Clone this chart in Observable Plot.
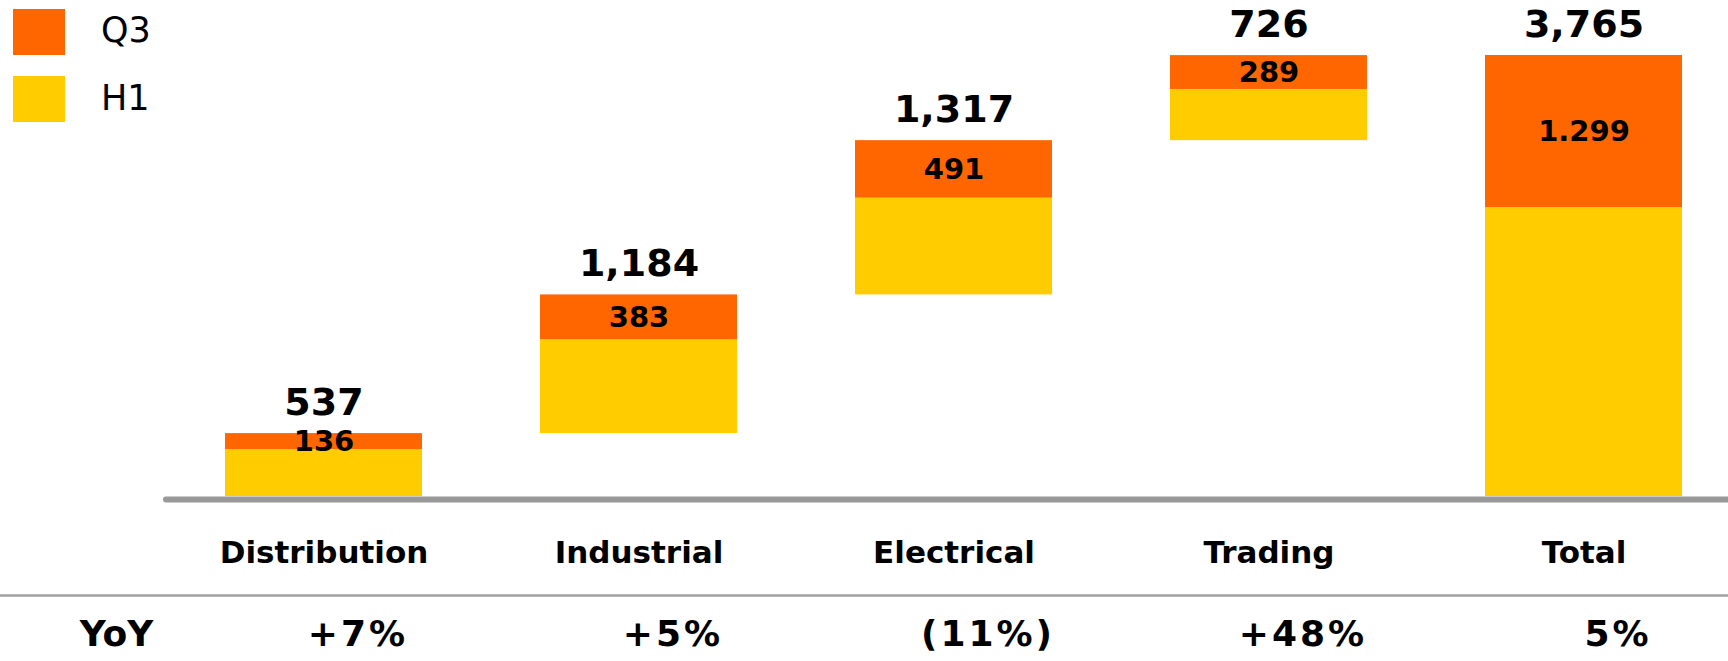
<!DOCTYPE html>
<html><head><meta charset="utf-8">
<script src="https://cdn.jsdelivr.net/npm/d3@7"></script>
<script src="https://cdn.jsdelivr.net/npm/@observablehq/plot@0.6"></script>
<style>
body{margin:0;background:#fff;}
#wrap{position:relative;width:1728px;height:661px;font-family:"DejaVu Sans",sans-serif;}
.sw{position:absolute;left:13px;width:52px;height:46px;}
.lt{position:absolute;left:101px;font-size:35px;line-height:1;color:#000;}
</style></head><body><div id="wrap"></div>
<script>
const categories = ["Distribution","Industrial","Electrical","Trading","Total"];
const totals = [537,1184,1317,726,3765];
const q3 = [136,383,491,289,1299];
const h1 = [401,801,826,437,2466];
const totalLabels = ["537","1,184","1,317","726","3,765"];
const q3Labels = ["136","383","491","289","1.299"];
const yoyLabels = ["+7%","+5%","(11%)","+48%","5%"];
const series = ["Q3","H1"];
const colors = ["#FF6600","#FFCC00"];

// waterfall bases: segments float on the running sum, the last (Total) starts at 0
let run = 0;
const bases = categories.map((c, i) => {
  if (i === categories.length - 1) return 0;
  const b = run; run += totals[i]; return b;
});
const bars = [];
const q3Rows = [];
const topRows = [];
categories.forEach((c, i) => {
  const b = bases[i];
  bars.push({cat: c, series: "H1", y1: b, y2: b + h1[i]});
  bars.push({cat: c, series: "Q3", y1: b + h1[i], y2: b + h1[i] + q3[i]});
  q3Rows.push({cat: c, y: b + h1[i] + q3[i] / 2, label: q3Labels[i]});
  topRows.push({cat: c, y: b + h1[i] + q3[i], label: totalLabels[i]});
});
const yoyRows = categories.map((c, i) => ({cat: c, label: yoyLabels[i]}));

const font = "DejaVu Sans";
const chart = Plot.plot({
  width: 1728,
  height: 661,
  marginLeft: 225,
  marginRight: 46,
  marginTop: 55,
  marginBottom: 165,
  style: {fontFamily: font, color: "#000", background: "#fff"},
  x: {domain: categories, paddingInner: 0.375, paddingOuter: 0, label: null},
  y: {domain: [0, d3.max(totals)], axis: null},
  color: {domain: series, range: colors},
  marks: [
    Plot.barY(bars, {x: "cat", y1: "y1", y2: "y2", fill: "series"}),
    Plot.ruleY([0], {stroke: "#999", strokeWidth: 6, dy: 3, insetLeft: -59, insetRight: -46, strokeLinecap: "round"}),
    Plot.ruleY([0], {stroke: "#a0a0a0", strokeWidth: 2.5, dy: 99, insetLeft: -225, insetRight: -46}),
    Plot.axisX({tickSize: 0, tickPadding: 44, fontSize: 31, fontWeight: "bold", fontFamily: font, label: null}),
    Plot.text(q3Rows, {x: "cat", y: "y", text: "label", fontSize: 29, fontWeight: "bold", fontFamily: font, lineAnchor: "middle", fill: "#000"}),
    Plot.text(topRows, {x: "cat", y: "y", text: "label", fontSize: 38, fontWeight: "bold", fontFamily: font, lineAnchor: "bottom", dy: -19, fill: "#000"}),
    Plot.text(yoyRows, {x: "cat", text: "label", frameAnchor: "bottom", dy: 138, dx: 34, lineAnchor: "middle", fontSize: 36, fontWeight: "bold", fontFamily: font, fill: "#000"}),
    Plot.text(["YoY"], {frameAnchor: "bottom-left", dx: -109, dy: 138, lineAnchor: "middle", textAnchor: "middle", fontSize: 36, fontWeight: "bold", fontFamily: font, fill: "#000"})
  ]
});
// slight letter spacing on the YoY percentages, as in the reference
d3.select(chart).selectAll("text").filter(function() {
  return yoyLabels.includes(this.textContent);
}).style("letter-spacing", "3px");
const wrap = document.getElementById("wrap");
wrap.appendChild(chart);
// legend
const legendTops = [{sw: 9, txt: 13}, {sw: 76, txt: 81}];
series.forEach((s, i) => {
  const sw = document.createElement("div");
  sw.className = "sw"; sw.style.top = legendTops[i].sw + "px"; sw.style.background = colors[i];
  const t = document.createElement("div");
  t.className = "lt"; t.style.top = legendTops[i].txt + "px"; t.textContent = s;
  wrap.appendChild(sw); wrap.appendChild(t);
});
</script></body></html>
